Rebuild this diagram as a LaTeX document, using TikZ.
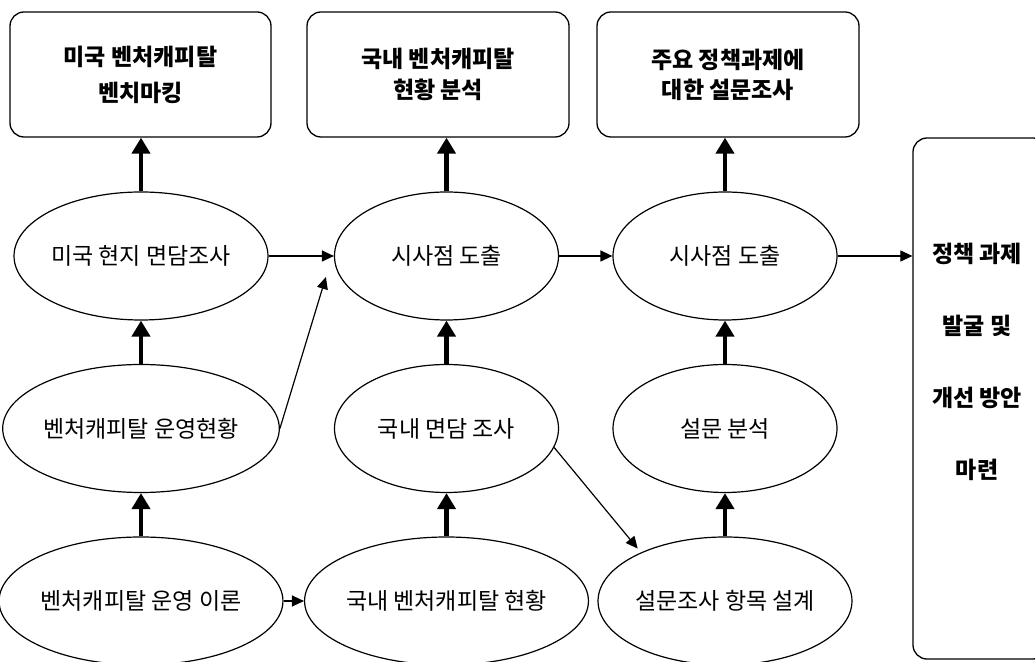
\documentclass[tikz,border=0pt]{standalone}
\usepackage{fontspec}
\setmainfont{Noto Sans CJK KR}
\usetikzlibrary{shapes,arrows.meta,positioning,calc}

\begin{document}
\begin{tikzpicture}[x=1pt, y=1pt,
    box/.style={draw, line width=1.3pt, rounded corners=14pt, minimum width=262pt, minimum height=125pt, align=center, font=\fontsize{23}{28}\selectfont\bfseries},
    ell/.style={draw, ellipse, line width=1.2pt, minimum width=224pt, minimum height=128pt, inner sep=0pt, font=\fontsize{23}{28}\selectfont},
    arr/.style={-{Triangle[length=12pt,width=11pt]}, line width=1.2pt},
    barr/.style={-{Triangle[length=16pt,width=18pt]}, line width=4.5pt}]
    \clip (0,0) rectangle (1035,661);

    % top boxes
    \node[box, minimum width=261pt] (b1) at (140.5,586.5) {미국 벤처캐피탈\\[8pt]벤치마킹};
    \node[box] (b2) at (438,586.5) {국내 벤처캐피탈\\[3pt]현황 분석};
    \node[box] (b3) at (728,586.5) {주요 정책과제에\\[2pt]대한 설문조사};

    % ellipses, column by column
    \node[ell] (e11) at (141,405) {미국 현지 면담조사};
    \node[ell] (e12) at (141,232.5) {벤처캐피탈 운영현황};
    \node[ell] (e13) at (141,60) {벤처캐피탈 운영 이론};

    \node[ell] (e21) at (446.5,405) {시사점 도출};
    \node[ell] (e22) at (446.5,232.5) {국내 면담 조사};
    \node[ell] (e23) at (446.5,60) {국내 벤처캐피탈 현황};

    \node[ell] (e31) at (725,405) {시사점 도출};
    \node[ell] (e32) at (725,232.5) {설문 분석};
    \node[ell] (e33) at (725,60) {설문조사 항목 설계};

    % result box
    \node[draw, line width=1.3pt, rounded corners=14pt, minimum width=134pt, minimum height=521pt] (rbox) at (980,262.5) {};
    \node[align=center, font=\fontsize{23}{28}\selectfont\bfseries] (rtxt) at (977,299.5) {정책 과제\\[44pt]발굴 및\\[44pt]개선 방안\\[44pt]마련};

    % thick arrows
    \draw[barr] (e11.north) -- (e11.north |- b1.south);
    \draw[barr] (e21.north) -- (e21.north |- b2.south);
    \draw[barr] (e31.north) -- (e31.north |- b3.south);
    \draw[barr] (e12.north) -- (e11.south);
    \draw[barr] (e13.north) -- (e12.south);
    \draw[barr] (e22.north) -- (e21.south);
    \draw[barr] (e23.north) -- (e22.south);
    \draw[barr] (e32.north) -- (e31.south);
    \draw[barr] (e33.north) -- (e32.south);

    % thin arrows
    \coordinate (j1) at ($(e21.west)+(-8,-21)$);
    \draw[arr] (e11.east) -- (e21.west);
    \draw[arr] (e12.east) -- (j1);
    \draw[arr] (e13.east) -- (e23.west);
    \draw[arr] (e21.east) -- (e31.west);
    \draw[arr, shorten >=5pt] (e22.-10) -- (e33.150);
    \draw[arr] (e31.east) -- (e31.east -| rbox.west);
\end{tikzpicture}
\end{document}
